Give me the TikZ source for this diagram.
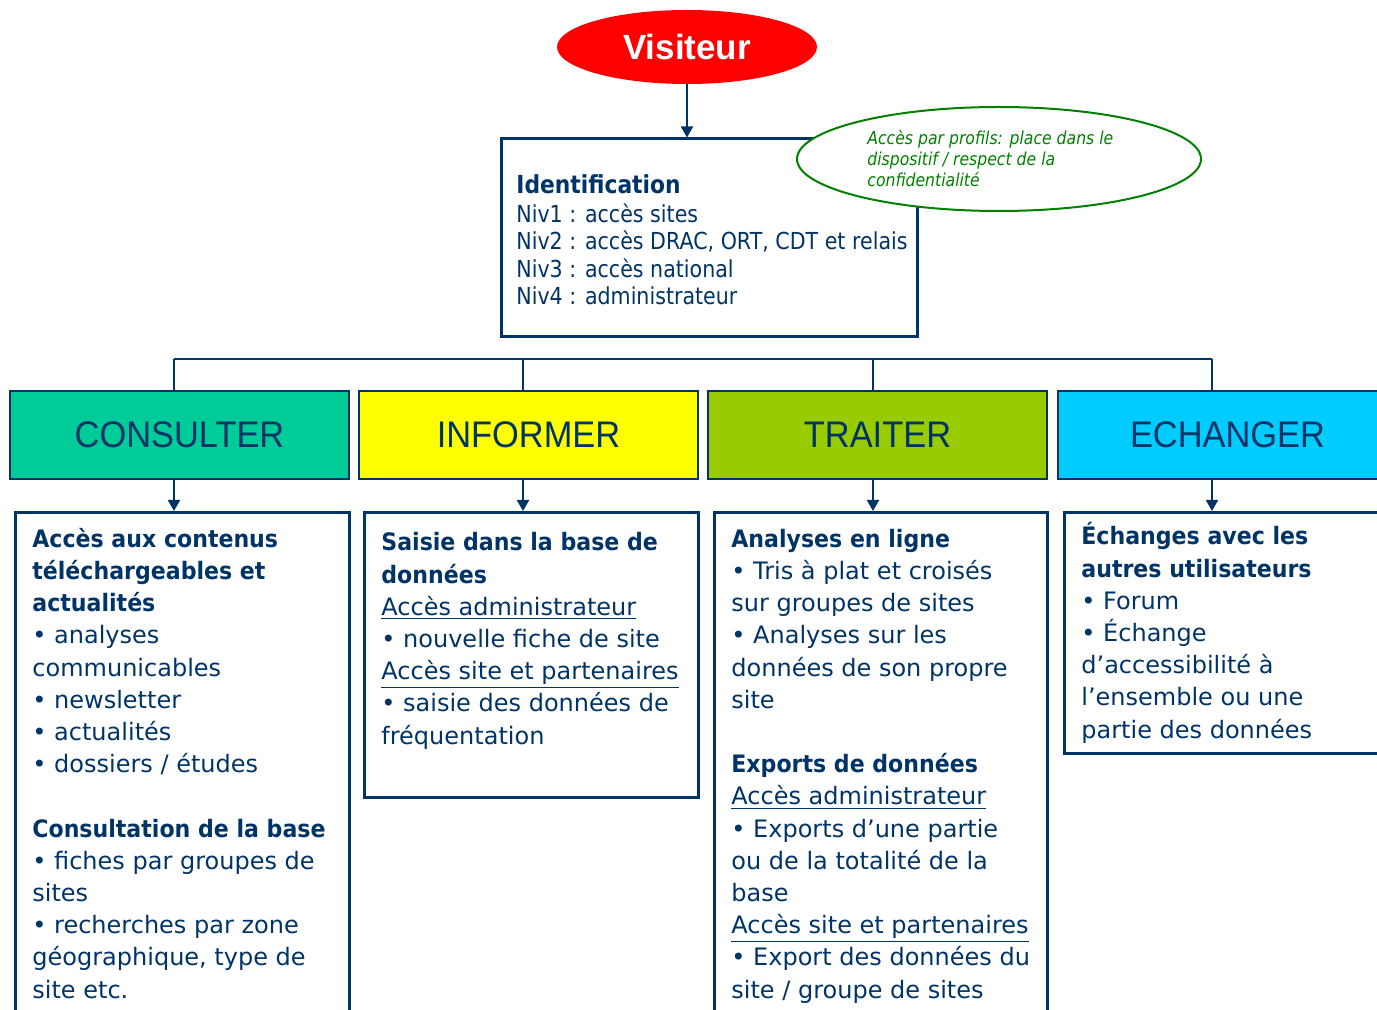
\documentclass[tikz,border=0pt]{standalone}
\usepackage{fontspec}
\usepackage{xcolor}
\usepackage{tikz}
\usetikzlibrary{shapes.geometric, arrows.meta, positioning, calc}
\setmainfont{DejaVu Sans}[BoldFeatures={FakeStretch=0.92}]
\newfontfamily\narrowfont{DejaVu Sans}[FakeStretch=0.88, ItalicFont={DejaVu Sans Oblique}]
\newfontfamily\labelfont{Liberation Sans}[FakeStretch=0.93]
\newfontfamily\titlefont{Liberation Sans}
\definecolor{navyline}{HTML}{003366}
\definecolor{visitred}{HTML}{FF0000}
\definecolor{profilgreen}{HTML}{008000}
\definecolor{consultgreen}{HTML}{00CC99}
\definecolor{informyellow}{HTML}{FFFF00}
\definecolor{traitlime}{HTML}{99CC00}
\definecolor{echangecyan}{HTML}{00CCFF}

\begin{document}
\begin{tikzpicture}[x=0.5pt, y=-0.5pt,
    catbox/.style={draw=navyline, line width=1pt, minimum width=169.5pt, minimum height=44pt,
      inner sep=0pt, text=navyline, font=\labelfont\fontsize{18.5}{18.5}\selectfont},
    contentbox/.style={draw=navyline, line width=1.5pt, anchor=north, inner sep=0pt, minimum width=167pt},
    % multi-line nodes: base sits on the last line
    bodytext/.style={anchor=base west, inner sep=0pt, align=left, text=navyline,
      font=\fontsize{12}{16.1}\selectfont},
    link/.style={navyline, line width=1pt},
    arrowlink/.style={link, -{Triangle[width=6pt, length=5.5pt]}}]
  \useasboundingbox (0,0) rectangle (1377,1010);
  \clip (0,0) rectangle (1377,1010);

  % Visitor and identification
  \node[ellipse, fill=visitred, minimum width=130pt, minimum height=37pt, inner sep=0pt,
    text=white, font=\titlefont\bfseries\fontsize{17.5}{17.5}\selectfont] (visiteur) at (687,47) {Visiteur};
  \node[draw=navyline, line width=1.5pt, minimum width=208pt, minimum height=99pt] (ident) at (709,238) {};
  \node[anchor=base west, inner sep=0pt, align=left, text=navyline, font=\narrowfont\fontsize{11.7}{13.8}\selectfont]
    (identtext) at (516,305) {{\fontsize{12.4}{13.8}\selectfont\bfseries Identification}\\[0.7pt]
    Niv1 : accès sites\\
    Niv2 : accès DRAC, ORT, CDT et relais\\
    Niv3 : accès national\\
    Niv4 : administrateur};
  \draw[arrowlink] (visiteur.south) -- (visiteur.south |- ident.north);

  % Profile note
  \node[ellipse, draw=profilgreen, line width=1pt, fill=white, minimum width=202pt, minimum height=52pt]
    (profils) at (999,159) {};
  \node[anchor=base west, inner sep=0pt, align=left, text=profilgreen,
    font=\narrowfont\itshape\fontsize{8.9}{10.5}\selectfont]
    (profiltext) at (867,187) {Accès par profils: place dans le\\ dispositif / respect de la\\ confidentialité};

  % Four activity headers
  \node[catbox, fill=consultgreen] (consult) at (179.5,435) {CONSULTER};
  \node[catbox, fill=informyellow] (inform) at (528.5,435) {INFORMER};
  \node[catbox, fill=traitlime] (trait) at (877.5,435) {TRAITER};
  \node[catbox, fill=echangecyan] (echange) at (1227.5,435) {ECHANGER};

  % Distribution bus
  \coordinate (bus1) at (174,359);
  \coordinate (bus2) at (523,359);
  \coordinate (bus3) at (873,359);
  \coordinate (bus4) at (1212,359);
  \draw[link] (bus1) -- (bus4);

  % Content boxes
  \node[contentbox, minimum height=270pt] (consultbox) at (182,511) {};
  \node[contentbox, minimum height=142.5pt] (informbox) at (531,511) {};
  \node[contentbox, minimum width=166.5pt, minimum height=270pt] (traitbox) at (880.5,511) {};
  \node[contentbox, minimum width=168pt, minimum height=120.5pt] (echangebox) at (1232,511) {};

  \foreach \b/\c/\d in {bus1/consult/consultbox, bus2/inform/informbox, bus3/trait/traitbox, bus4/echange/echangebox} {
    \draw[link] (\b) -- (\b |- \c.north);
    \draw[arrowlink] (\c.south -| \b) -- (\d.north -| \b);
  }

  % Box contents
  \node[bodytext] (consulttext) at (32,998) {\textbf{Accès aux contenus}\\
    \textbf{téléchargeables et}\\
    \textbf{actualités}\\
    • analyses\\
    communicables\\
    • newsletter\\
    • actualités\\
    • dossiers / études\\[16.1pt]
    \textbf{Consultation de la base}\\
    • fiches par groupes de\\
    sites\\
    • recherches par zone\\
    géographique, type de\\
    site etc.};
  \node[bodytext] (informtext) at (381,744) {\textbf{Saisie dans la base de}\\
    \textbf{données}\\
    \underline{Accès administrateur}\\
    • nouvelle fiche de site\\
    \underline{Accès site et partenaires}\\
    • saisie des données de\\
    fréquentation};
  \node[bodytext] (traittext) at (731,998) {\textbf{Analyses en ligne}\\
    • Tris à plat et croisés\\
    sur groupes de sites\\
    • Analyses sur les\\
    données de son propre\\
    site\\[16.1pt]
    \textbf{Exports de données}\\
    \underline{Accès administrateur}\\
    • Exports d’une partie\\
    ou de la totalité de la\\
    base\\
    \underline{Accès site et partenaires}\\
    • Export des données du\\
    site / groupe de sites};
  \node[bodytext] (echangetext) at (1081,738) {\textbf{Échanges avec les}\\
    \textbf{autres utilisateurs}\\
    • Forum\\
    • Échange\\
    d’accessibilité à\\
    l’ensemble ou une\\
    partie des données};
\end{tikzpicture}
\end{document}
